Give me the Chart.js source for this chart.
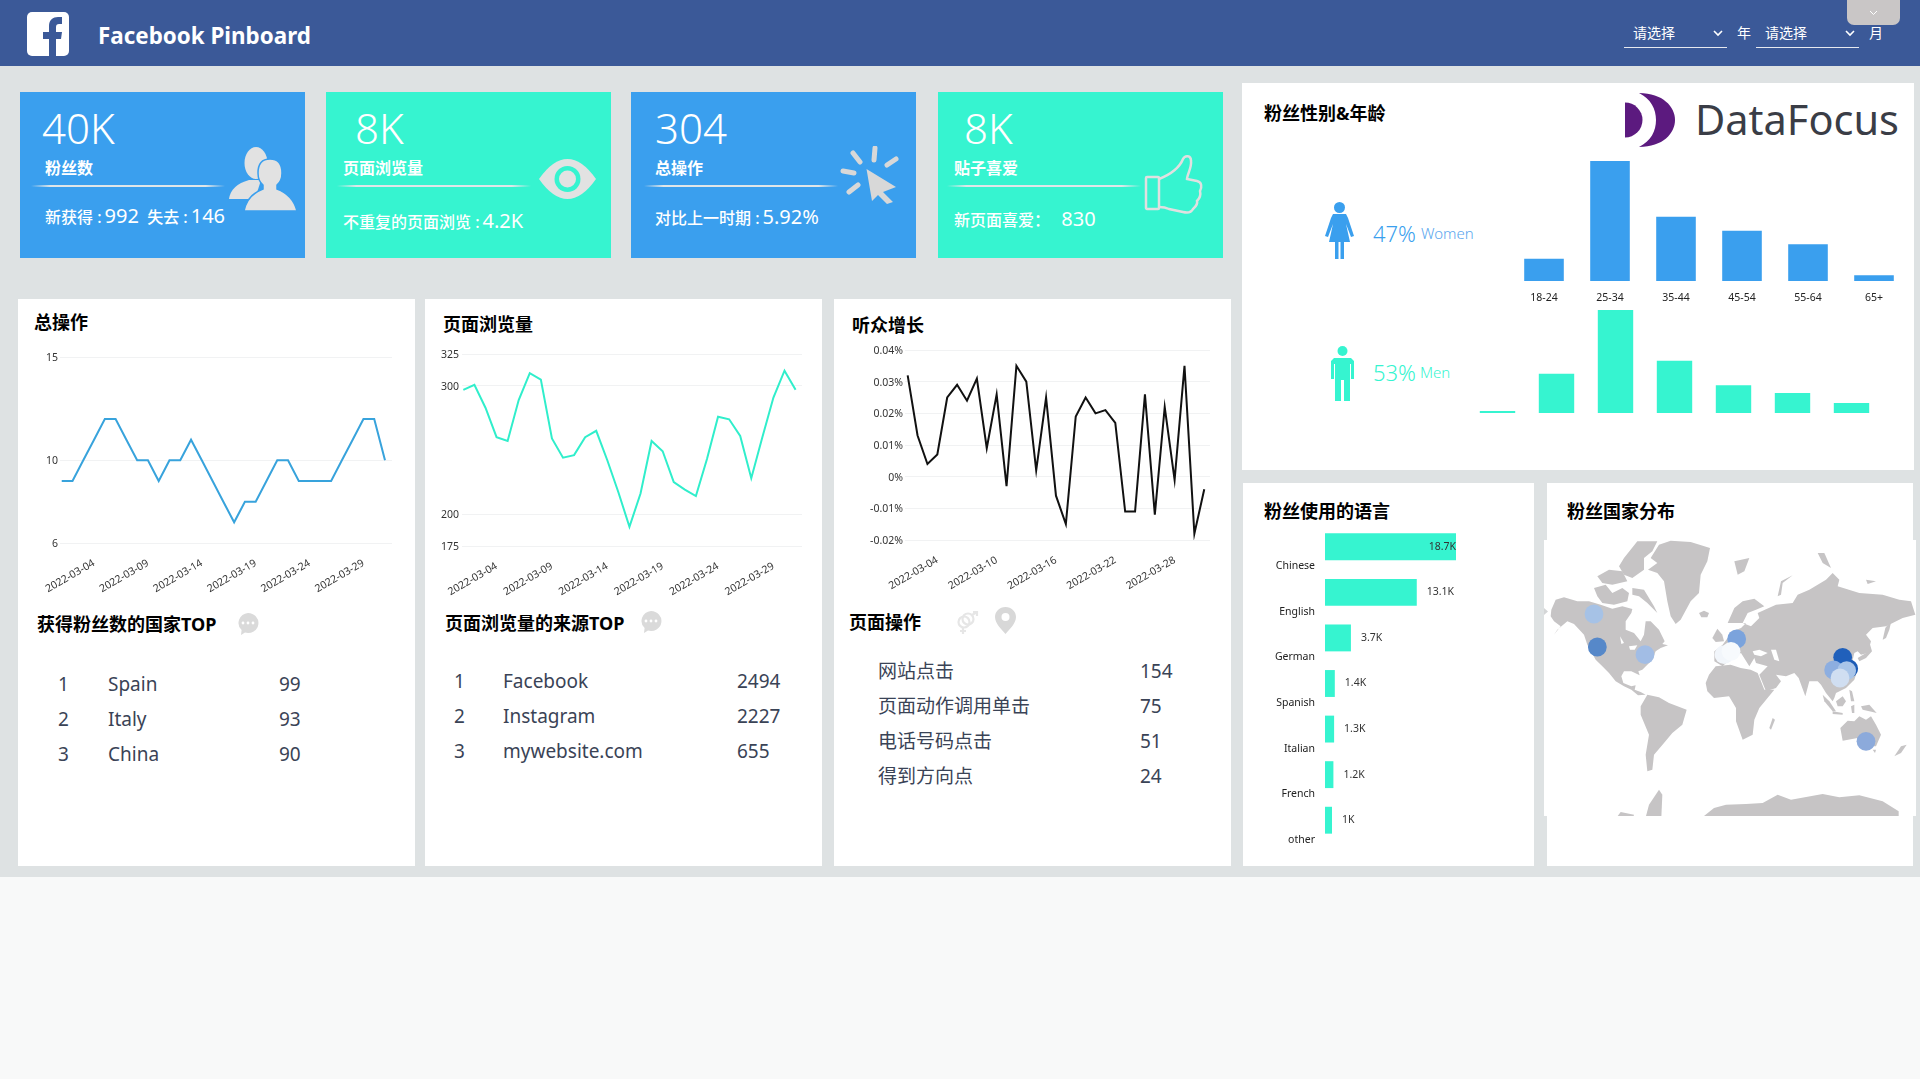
<!DOCTYPE html>
<html lang="zh">
<head>
<meta charset="utf-8">
<title>Facebook Pinboard</title>
<script src="https://cdn.jsdelivr.net/npm/chart.js@4"></script>
<style>
    html, body { margin: 0; padding: 0; }
    body { width: 1920px; height: 1079px; overflow: hidden; background: #f8f9f9; position: relative;
        font-family: "Noto Sans", "Noto Sans CJK SC", sans-serif; }
    .box { position: absolute; }
    .txt { position: absolute; white-space: nowrap; line-height: 1; transform: translateY(-50%); }
    .head { font-family: "Noto Sans", "Noto Sans CJK SC", sans-serif; font-weight: 700; font-size: 18px; color: #000; }
    .row { font-size: 19px; color: #3a4356; }
    .kpi-big { font-size: 42px; color: #fff; font-weight: 350; }
    .kpi-label { font-size: 16px; color: #fff; font-weight: 700; }
    .kpi-sub { font-size: 16px; color: #fff; font-weight: 500; }
    .kpi-sub b { font-size: 20px; font-weight: 400; margin-left: 3px; }
    .kpi-line { position: absolute; height: 2px; top: 185px;
        background: linear-gradient(90deg, rgba(224,230,232,0), #e0e6e8 10%, #e0e6e8 90%, rgba(224,230,232,0)); }
    canvas, svg { position: absolute; display: block; }
</style>
</head>
<body>

<div class="box" style="left:0;top:0;width:1920px;height:877px;background:#dee2e3"></div>
<div class="box" style="left:0;top:0;width:1920px;height:66px;background:#3b5998"></div>

<!-- header -->
<svg style="left:27px;top:12px" width="42" height="44" viewBox="0 0 42 44">
    <rect width="42" height="44" rx="5" fill="#fff"/>
    <path d="M22 44V27h-6v-7h6v-6c0-6 4-9 9-9h4v7h-3c-2 0-3 1-3 3v5h6l-1 7h-5v17z" fill="#3b5998"/>
</svg>
<div class="txt" style="left:98px;top:36px;font-size:22.4px;font-weight:700;color:#fff">Facebook Pinboard</div>

<div class="txt" style="left:1633px;top:33px;font-size:14px;color:#fff">请选择</div>
<svg style="left:1713px;top:30px" width="10" height="7"><path d="M1 1l4 4 4-4" fill="none" stroke="#fff" stroke-width="1.6"/></svg>
<div class="box" style="left:1624px;top:47px;width:103px;height:1px;background:#e6e9ef"></div>
<div class="txt" style="left:1737px;top:33px;font-size:14px;color:#fff">年</div>
<div class="txt" style="left:1765px;top:33px;font-size:14px;color:#fff">请选择</div>
<svg style="left:1845px;top:30px" width="10" height="7"><path d="M1 1l4 4 4-4" fill="none" stroke="#fff" stroke-width="1.6"/></svg>
<div class="box" style="left:1756px;top:47px;width:103px;height:1px;background:#e6e9ef"></div>
<div class="txt" style="left:1869px;top:33px;font-size:14px;color:#fff">月</div>
<div class="box" style="left:1847px;top:0;width:53px;height:25px;background:#c9c6c6;border-radius:0 0 7px 7px"></div>
<svg style="left:1869px;top:10px" width="9" height="6"><path d="M1 1l3.5 3.5L8 1" fill="none" stroke="#fff" stroke-width="1"/></svg>

<!-- kpi cards -->
<div class="box" style="left:20px;top:92px;width:285px;height:166px;background:#3a9fee"></div>
<div class="box" style="left:326px;top:92px;width:285px;height:166px;background:#36f4d0"></div>
<div class="box" style="left:631px;top:92px;width:285px;height:166px;background:#3a9fee"></div>
<div class="box" style="left:938px;top:92px;width:285px;height:166px;background:#36f4d0"></div>
<div id="kpiLayer"></div>

<svg style="left:229px;top:147px" width="68" height="64" viewBox="0 0 68 64">
    <ellipse cx="27" cy="16" rx="11.5" ry="16" fill="#e2e2e2"/>
    <path d="M0 52Q2 38 20 33L32 33 26 52Z" fill="#e2e2e2"/>
    <path d="M15 64Q18 48 34 42V38Q29 34 29 26 29 12 41 12 53 12 53 26 53 34 48 38V42Q64 48 68 64Z" fill="#e2e2e2" stroke="#3a9fee" stroke-width="1.5"/>
</svg>
<svg style="left:539px;top:159px" width="57" height="40" viewBox="0 0 57 40">
    <path d="M0 20Q14 0 28.5 0 43 0 57 20 43 40 28.5 40 14 40 0 20Z" fill="#e2e2e2"/>
    <circle cx="28.5" cy="20" r="13" fill="#36f4d0"/>
    <circle cx="28.5" cy="20" r="8.5" fill="#e2e2e2"/>
</svg>
<svg style="left:840px;top:146px" width="60" height="58" viewBox="0 0 60 58">
    <g stroke="#d8d8d8" stroke-width="5" stroke-linecap="round">
        <path d="M13 7l7 9M35 2l-1 12M47 19l9-6M3 25l11 2M9 46l9-7"/>
    </g>
    <path d="M26.5 23L56 41 43 46 53 56 47 58 38 49 32 55Z" fill="#d8d8d8"/>
</svg>
<svg style="left:1145px;top:155px;overflow:visible" width="57" height="58" viewBox="0 0 57 58">
    <g fill="none" stroke="#e0e0e0" stroke-width="2.5">
        <rect x="1" y="22" width="13" height="32" rx="1"/>
        <path d="M14 24C24 20 34 14 38 4 40 0 46 0 46 6 47 12 42 20 42 24L52 26C57 27 57 32 55 36 56 40 54 44 52 46 53 50 50 52 48 54 46 58 42 58 38 57L24 54C20 52 16 52 14 52"/>
    </g>
</svg>

<!-- white panels -->
<div class="box" style="left:18px;top:299px;width:397px;height:567px;background:#fff"></div>
<div class="box" style="left:425px;top:299px;width:397px;height:567px;background:#fff"></div>
<div class="box" style="left:834px;top:299px;width:397px;height:567px;background:#fff"></div>
<div class="box" style="left:1242px;top:83px;width:672px;height:387px;background:#fff"></div>
<div class="box" style="left:1243px;top:483px;width:291px;height:383px;background:#fff"></div>
<div class="box" style="left:1547px;top:483px;width:366px;height:383px;background:#fff"></div>
<div class="box" style="left:1544px;top:540px;width:372px;height:276px;background:#fff"></div>

<div class="txt head" style="left:34px;top:322px">总操作</div>
<div class="txt head" style="left:443px;top:324px">页面浏览量</div>
<div class="txt head" style="left:852px;top:325px">听众增长</div>
<div class="txt head" style="left:37px;top:624px">获得粉丝数的国家TOP</div>
<div class="txt head" style="left:445px;top:623px">页面浏览量的来源TOP</div>
<div class="txt head" style="left:849px;top:622px">页面操作</div>
<div class="txt head" style="left:1264px;top:113px">粉丝性别&amp;年龄</div>
<div class="txt head" style="left:1264px;top:511px">粉丝使用的语言</div>
<div class="txt head" style="left:1567px;top:511px">粉丝国家分布</div>

<svg style="left:237px;top:613px" width="22" height="23" viewBox="0 0 22 23">
    <path d="M11 0a10.5 10 0 1 1-3 19.6L4 22l.6-5A10.5 10 0 0 1 11 0z" fill="#dadada"/>
    <g fill="#fff"><circle cx="6" cy="10" r="1.4"/><circle cx="11" cy="10" r="1.4"/><circle cx="16" cy="10" r="1.4"/></g>
</svg>
<svg style="left:640px;top:611px" width="22" height="23" viewBox="0 0 22 23">
    <path d="M11 0a10.5 10 0 1 1-3 19.6L4 22l.6-5A10.5 10 0 0 1 11 0z" fill="#dadada"/>
    <g fill="#fff"><circle cx="6" cy="10" r="1.4"/><circle cx="11" cy="10" r="1.4"/><circle cx="16" cy="10" r="1.4"/></g>
</svg>
<svg style="left:955px;top:611px" width="24" height="24" viewBox="0 0 24 24">
    <g fill="none" stroke="#e6e6e6" stroke-width="2.2">
        <circle cx="9" cy="11" r="5.5"/><circle cx="13" cy="8" r="5.5"/>
        <path d="M8 17v6M5 20h6M17 4l5-3M18 1h4v4"/>
    </g>
</svg>
<svg style="left:995px;top:607px" width="21" height="27" viewBox="0 0 21 27">
    <path d="M10.5 0C4.5 0 0 4.5 0 10c0 6 6 12 10.5 17C15 22 21 16 21 10 21 4.5 16.5 0 10.5 0z" fill="#d8d8d8"/>
    <circle cx="10.5" cy="10" r="4" fill="#fff"/>
</svg>
<svg style="left:1544px;top:608px" width="4" height="7"><path d="M0 0l4 3.5L0 7z" fill="#d4d6d7"/></svg>

<div id="tableLayer"></div>

<!-- logo -->
<svg style="left:1625px;top:93px" width="50" height="54" viewBox="0 0 50 54">
    <path d="M0 9.5A17.5 17.5 0 0 1 0 44.5Z" fill="#5c1a7f"/>
    <path d="M14 0C38 0 50 14 50 27 50 40 38 54 14 54 26 48 31 38 31 27 31 16 26 6 14 0Z" fill="#5c1a7f"/>
</svg>
<div class="txt" style="left:1695px;top:120px;font-size:41.5px;color:#3a3d46">DataFocus</div>

<!-- gender -->
<svg style="left:1325px;top:202px" width="29" height="57" viewBox="0 0 29 57">
    <g fill="#3a9fee">
        <circle cx="14.5" cy="5.5" r="5.5"/>
        <path d="M8 12h13l2 4 6 18-3 1-5-13 4 18h-6v17h-3.5V40h-2v17H10V40H4l4-18-5 13-3-1 6-18z"/>
    </g>
</svg>
<svg style="left:1331px;top:346px" width="23" height="55" viewBox="0 0 23 55">
    <g fill="#36f4d0">
        <circle cx="11.5" cy="5" r="5"/>
        <path d="M3 12h17l3 3v18h-3V18h-1v37h-6V34h-3v21H4V18H3v15H0V15z"/>
    </g>
</svg>
<div class="txt" style="left:1373px;top:233px;font-size:22px;color:#3a9fee;font-weight:350">47%</div>
<div class="txt" style="left:1421px;top:233px;font-size:15px;color:#5aa6ee;font-weight:350">Women</div>
<div class="txt" style="left:1373px;top:372px;font-size:22px;color:#36f4d0;font-weight:350">53%</div>
<div class="txt" style="left:1420px;top:372px;font-size:15px;color:#36f4d0;font-weight:350">Men</div>

<canvas id="womenChart" width="396" height="150" style="left:1511px;top:161px"></canvas>
<canvas id="menChart" width="413" height="103" style="left:1468px;top:310px"></canvas>
<canvas id="operationsChart" width="376" height="258" style="left:20px;top:345px"></canvas>
<canvas id="pageViewsChart" width="376" height="264" style="left:430px;top:342px"></canvas>
<canvas id="audienceChart" width="380" height="262" style="left:835px;top:338px"></canvas>
<canvas id="languageChart" width="280" height="340" style="left:1240px;top:520px"></canvas>
<canvas id="mapChart" width="372" height="276" style="left:1544px;top:540px"></canvas>

<script>
const TEXT_DARK = '#333';
const BLUE = '#3a9fee';
const TEAL = '#36f4d0';
const GRID = '#f1f2f3';

// daily axis shared by the three line charts
const dayLabels = ['2022-03-01','2022-03-02','2022-03-03','2022-03-04','2022-03-05','2022-03-06','2022-03-07','2022-03-08',
    '2022-03-09','2022-03-10','2022-03-11','2022-03-12','2022-03-13','2022-03-14','2022-03-15','2022-03-16',
    '2022-03-17','2022-03-18','2022-03-19','2022-03-20','2022-03-21','2022-03-22','2022-03-23','2022-03-24',
    '2022-03-25','2022-03-26','2022-03-27','2022-03-28','2022-03-29','2022-03-30','2022-03-31'];

const operationsValues = [9,9,10,11,12,12,11,10,10,9,10,10,11,10,9,8,7,8,8,9,10,10,9,9,9,9,10,11,12,12,10];
const operationsTicks = [6,10,15];
const operationsDayTicks = [3,8,13,18,23,28];

const pageViewsValues = [297,301,283,260,257,289,310,305,259,244,246,260,265,242,217,190,216,257,249,225,219,214,243,276,274,261,228,260,291,312,297];
const pageViewsTicks = [175,200,300,325];
const pageViewsDayTicks = [3,8,13,18,23,28];

const audienceValues = [0.032,0.013,0.004,0.007,0.025,0.029,0.024,0.031,0.009,0.026,-0.003,0.035,0.030,0.002,0.025,-0.006,-0.015,0.019,0.025,0.020,0.021,0.017,-0.011,-0.011,0.026,-0.012,0.022,-0.001,0.035,-0.018,-0.004];
const audienceTicks = [-0.02,-0.01,0,0.01,0.02,0.03,0.04];
const audienceDayTicks = [3,9,15,21,27];

const womenAges = ['18-24','25-34','35-44','45-54','55-64','65+'];
const womenValues = [3.5,18.9,10.1,7.9,5.8,0.9];
const menAges = ['13-17','18-24','25-34','35-44','45-54','55-64','65+'];
const menValues = [0.4,8.2,21.5,10.9,5.8,4.2,2.1];

const languages = ['Chinese','English','German','Spanish','Italian','French','other'];
const languageValues = [18.7,13.1,3.7,1.4,1.3,1.2,1];

const topCountries = ['Spain','Italy','China'];
const topCountryValues = [99,93,90];
const topSources = ['Facebook','Instagram','mywebsite.com'];
const topSourceValues = [2494,2227,655];
const pageActions = ['网站点击','页面动作调用单击','电话号码点击','得到方向点'];
const pageActionValues = [154,75,51,24];

// land outlines in map units (3 units per screen pixel); the eastern hemisphere list is shifted by mapEastShift
const mapEastShift = 546;
const westLand = [
    [[22,215],[35,185],[60,178],[100,190],[135,190],[170,200],[205,212],[235,205],[265,213],[262,225],[245,250],[245,275],[270,285],[290,310],[300,290],[305,250],[320,250],[345,275],[362,310],[355,318],[372,322],[350,330],[335,340],[325,365],[295,395],[283,400],[287,412],[262,400],[240,400],[232,415],[238,435],[262,445],[275,442],[272,455],[290,462],[305,470],[282,472],[262,455],[240,445],[215,430],[195,405],[175,385],[155,365],[130,320],[120,290],[90,258],[70,250],[40,275],[30,290],[50,265],[30,250],[20,235]],
    [[345,20],[380,8],[440,12],[498,30],[490,70],[470,110],[465,165],[440,190],[410,245],[395,258],[380,235],[370,190],[360,130],[340,105],[312,95],[340,75],[320,60]],
    [[265,150],[300,155],[330,205],[340,225],[310,195],[285,175],[265,170]],
    [[150,150],[185,140],[205,165],[235,150],[255,165],[250,190],[210,200],[175,195],[160,175]],
    [[160,115],[195,95],[235,100],[250,130],[205,140],[175,135]],
    [[240,60],[280,10],[340,10],[325,40],[300,60],[300,95],[265,120],[240,110],[225,85]],
    [[465,225],[480,218],[495,225],[490,238],[472,238]],
    [[505,300],[520,272],[535,290],[540,310],[515,312]],
    [[290,505],[310,470],[345,478],[375,495],[428,515],[415,560],[385,585],[360,615],[330,650],[325,695],[310,700],[305,650],[315,590],[290,530]],
    [[305,838],[315,800],[345,755],[355,770],[352,838]],
    [[218,838],[230,822],[270,830],[268,838]],
    [[485,435],[495,410],[515,385],[560,380],[590,390],[620,395],[641,405],[661,455],[691,455],[646,510],[631,545],[626,590],[596,605],[576,550],[576,510],[555,475],[510,480],[490,460]],
    [[475,838],[510,810],[546,800],[606,798],[656,795],[701,770],[741,785],[836,768],[886,778],[946,772],[1016,790],[1064,820],[1064,838]]
];
const eastLand = [
    [[-35,370],[-35,340],[-10,320],[5,300],[20,280],[45,270],[60,255],[5,255],[25,210],[50,190],[85,182],[115,205],[90,215],[65,225],[50,255],[75,265],[100,240],[95,225],[150,200],[200,195],[215,170],[250,155],[300,125],[320,105],[340,125],[335,145],[400,165],[470,170],[520,185],[555,190],[568,230],[530,240],[500,255],[480,265],[440,270],[420,290],[435,310],[425,345],[405,350],[395,340],[385,345],[378,375],[395,395],[385,425],[360,450],[330,465],[325,480],[320,490],[300,465],[285,440],[275,430],[250,430],[238,475],[218,420],[205,405],[180,415],[150,410],[165,430],[150,450],[120,460],[100,410],[125,385],[90,375],[85,360],[70,385],[45,345],[15,360],[-10,385]],
    [[130,570],[140,540],[147,545],[135,575]],
    [[428,305],[438,340],[420,360],[400,370],[395,360],[420,345]],
    [[470,305],[478,270],[497,245],[490,275],[480,300]],
    [[290,470],[310,490],[330,520],[320,520],[295,490]],
    [[330,490],[350,475],[360,490],[350,505],[335,505]],
    [[320,520],[350,525],[350,530],[320,528]],
    [[405,505],[430,500],[452,525],[430,520],[410,515]],
    [[370,455],[378,460],[385,490],[375,490]],
    [[375,505],[385,500],[385,525],[378,525]],
    [[343,570],[365,548],[385,550],[400,535],[420,545],[435,535],[450,560],[465,590],[450,625],[420,625],[395,600],[350,608]],
    [[440,635],[450,635],[447,645]],
    [[505,655],[525,625],[542,620],[525,645]],
    [[25,70],[70,60],[55,100],[35,110]],
    [[155,175],[165,130],[200,112],[170,135],[165,170]],
    [[275,45],[295,45],[315,90],[290,75]],
    [[420,125],[450,130],[425,138]]
];
const inlandSeas = [
    [[80+mapEastShift,340],[100+mapEastShift,335],[125+mapEastShift,345],[105+mapEastShift,355],[85+mapEastShift,350]],
    [[135+mapEastShift,335],[150+mapEastShift,335],[160+mapEastShift,370],[145+mapEastShift,365]],
    [[255,325],[280,322],[272,335],[258,335]],
    [[228,295],[240,315],[232,318]]
];

// fan locations on the map, drawn back to front
const fanX = [150,160,303,578,540,561,914,896,869,908,888,966];
const fanY = [228,327,350,303,350,340,392,358,396,398,420,610];
const fanColors = ['#a6c2e6','#5688c9','#a2bde5','#7ba3dc','#f2f6fb','#f7fafd','#1c5bb5','#2060bb','#8daee0','#a9c5e9','#d0def1','#8caadb'];
const fanRadius = 9.4;

Chart.defaults.font.family = '"Noto Sans", "Noto Sans CJK SC", sans-serif';
Chart.defaults.font.size = 10.5;
Chart.defaults.color = TEXT_DARK;
Chart.defaults.animation = false;
Chart.defaults.responsive = false;
Chart.defaults.plugins.legend.display = false;
Chart.defaults.plugins.tooltip.enabled = false;

// keep an axis at a fixed thickness so the plot area lands where it should
function lockAxis(prop, size) {
    return function (scale) {
        scale[prop] = size;
        scale.paddingTop = scale.paddingBottom = scale.paddingLeft = scale.paddingRight = 0;
    };
}

function drawLineChart(id, values, color, yTicks, dayTicks, opts) {
    new Chart(document.getElementById(id), {
        type: 'line',
        data: {
            datasets: [{
                data: values.map((v, i) => ({ x: i, y: v })),
                borderColor: color,
                borderWidth: 2,
                pointRadius: 0,
                tension: 0
            }]
        },
        options: {
            layout: { padding: { top: 12, right: opts.padRight } },
            scales: {
                x: {
                    type: 'linear',
                    min: opts.xMin,
                    max: opts.xMax,
                    grid: { display: false },
                    border: { display: false },
                    afterBuildTicks: scale => { scale.ticks = dayTicks.map(v => ({ value: v })); },
                    afterFit: lockAxis('height', 60),
                    ticks: {
                        autoSkip: false,
                        minRotation: 30,
                        maxRotation: 30,
                        padding: 6,
                        callback: v => dayLabels[v]
                    }
                },
                y: {
                    min: yTicks[0],
                    max: yTicks[yTicks.length - 1],
                    grid: { color: GRID, drawTicks: false },
                    border: { display: false },
                    afterBuildTicks: scale => { scale.ticks = yTicks.map(v => ({ value: v })); },
                    afterFit: lockAxis('width', opts.axisWidth),
                    ticks: { padding: opts.tickPad, labelOffset: 1, callback: opts.yFormat || (v => v) }
                }
            }
        }
    });
}

function drawAgeChart(id, ages, values, color, showAges) {
    new Chart(document.getElementById(id), {
        type: 'bar',
        data: {
            labels: ages,
            datasets: [{ data: values, backgroundColor: color, barPercentage: 0.6, categoryPercentage: 1 }]
        },
        options: {
            scales: {
                x: {
                    display: showAges,
                    grid: { display: false },
                    border: { display: false },
                    afterFit: lockAxis('height', showAges ? 30 : 0),
                    ticks: { padding: 3, color: '#222' }
                },
                y: { display: false, min: 0, max: Math.max(...values) }
            }
        }
    });
}

// value captions beside the language bars, pulled back inside when they would pass the plot edge
const barCaptions = {
    id: 'barCaptions',
    afterDatasetsDraw(chart) {
        const ctx = chart.ctx;
        const area = chart.chartArea;
        ctx.save();
        ctx.fillStyle = TEXT_DARK;
        ctx.font = '10.5px ' + Chart.defaults.font.family;
        ctx.textBaseline = 'middle';
        chart.getDatasetMeta(0).data.forEach((bar, i) => {
            const text = languageValues[i] + 'K';
            const left = Math.min(bar.x + 10, area.right - ctx.measureText(text).width);
            ctx.fillText(text, left, bar.y);
        });
        ctx.restore();
    }
};

function drawLanguageChart() {
    new Chart(document.getElementById('languageChart'), {
        type: 'bar',
        plugins: [barCaptions],
        data: {
            labels: languages,
            datasets: [{ data: languageValues, backgroundColor: TEAL, barPercentage: 0.59, categoryPercentage: 1 }]
        },
        options: {
            indexAxis: 'y',
            layout: { padding: { top: 4, right: 64, bottom: 17 } },
            scales: {
                x: { display: false, min: 0, max: 18.7 },
                y: {
                    grid: { display: false },
                    border: { display: false },
                    afterFit: lockAxis('width', 85),
                    ticks: { padding: 2, labelOffset: 19.5, color: '#222' }
                }
            }
        }
    });
}

function drawMapChart() {
    const outline = (points, color, order) => ({
        type: 'scatter',
        data: points.map(p => ({ x: p[0], y: p[1] })),
        showLine: true,
        fill: 'shape',
        backgroundColor: color,
        borderColor: color,
        borderWidth: 0,
        pointRadius: 0,
        order: order
    });
    const land = westLand.concat(eastLand.map(shape => shape.map(p => [p[0] + mapEastShift, p[1]])));

    new Chart(document.getElementById('mapChart'), {
        type: 'bubble',
        data: {
            datasets: [{
                data: fanX.map((x, i) => ({ x: x, y: fanY[i], r: fanRadius })),
                backgroundColor: fanColors,
                borderWidth: 0,
                order: 0
            }].concat(inlandSeas.map(s => outline(s, '#ffffff', 1)), land.map(s => outline(s, '#c6c4c5', 2)))
        },
        options: {
            layout: { autoPadding: false },
            scales: {
                x: { display: false, min: 0, max: 1116 },
                y: { display: false, reverse: true, min: 6, max: 834 }
            }
        }
    });
}

function renderCards() {
    const cards = [
        { big: '40K', bigX: 42, label: '粉丝数', x: 45, lineX: 31, lineW: 194, subY: 216, sub: '新获得 :<b>992</b>&nbsp;&nbsp;失去 :<b>146</b>' },
        { big: '8K', bigX: 355, label: '页面浏览量', x: 343, lineX: 337, lineW: 194, subY: 221, sub: '不重复的页面浏览 :<b>4.2K</b>' },
        { big: '304', bigX: 655, label: '总操作', x: 655, lineX: 644, lineW: 194, subY: 217, sub: '对比上一时期 :<b>5.92%</b>' },
        { big: '8K', bigX: 964, label: '贴子喜爱', x: 954, lineX: 947, lineW: 194, subY: 219, sub: '新页面喜爱： &nbsp;<b>830</b>' }
    ];
    let html = ``;
    for (let i = 0; i < cards.length; i++) {
        const c = cards[i];
        html += `
        <div class="txt kpi-big" style="left:${c.bigX}px;top:128px">${c.big}</div>
        <div class="txt kpi-label" style="left:${c.x}px;top:168px">${c.label}</div>
        <div class="kpi-line" style="left:${c.lineX}px;width:${c.lineW}px"></div>
        <div class="txt kpi-sub" style="left:${c.x}px;top:${c.subY}px">${c.sub}</div>
        `;
    }
    document.getElementById('kpiLayer').innerHTML = html;
}

function rowHtml(rank, rankX, name, nameX, value, valueX, top) {
    const rankCell = rank ? `<div class="txt row" style="left:${rankX}px;top:${top}px">${rank}</div>` : ``;
    return rankCell + `
        <div class="txt row" style="left:${nameX}px;top:${top}px">${name}</div>
        <div class="txt row" style="left:${valueX}px;top:${top}px">${value}</div>`;
}

function renderTables() {
    let html = ``;
    for (let i = 0; i < topCountries.length; i++) {
        html += rowHtml(i + 1, 58, topCountries[i], 108, topCountryValues[i], 279, 684 + i * 35);
    }
    for (let i = 0; i < topSources.length; i++) {
        html += rowHtml(i + 1, 454, topSources[i], 503, topSourceValues[i], 737, 681 + i * 35);
    }
    for (let i = 0; i < pageActions.length; i++) {
        html += rowHtml(0, 0, pageActions[i], 878, pageActionValues[i], 1140, 671 + i * 35);
    }
    document.getElementById('tableLayer').innerHTML = html;
}

renderCards();
renderTables();

drawLineChart('operationsChart', operationsValues, '#38a3dc', operationsTicks, operationsDayTicks,
    { xMin: -0.16, xMax: 30.65, padRight: 4, axisWidth: 40, tickPad: 2 });
drawLineChart('pageViewsChart', pageViewsValues, '#30eecb', pageViewsTicks, pageViewsDayTicks,
    { xMin: -0.12, xMax: 30.58, padRight: 4, axisWidth: 32, tickPad: 3 });
drawLineChart('audienceChart', audienceValues, '#111', audienceTicks, audienceDayTicks,
    { xMin: -0.27, xMax: 30.58, padRight: 5, axisWidth: 70, tickPad: 2, yFormat: v => v + '%' });

drawAgeChart('womenChart', womenAges, womenValues, BLUE, true);
drawAgeChart('menChart', menAges, menValues, TEAL, false);
drawLanguageChart();
drawMapChart();
</script>
</body>
</html>
